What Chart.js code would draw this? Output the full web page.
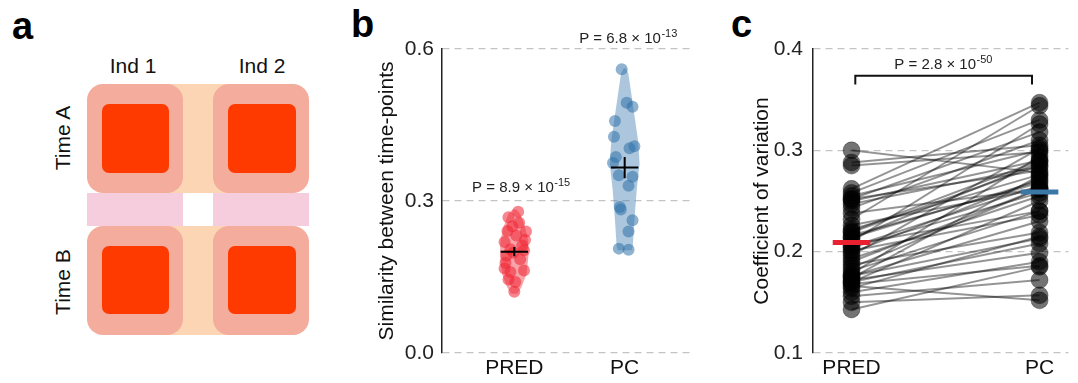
<!DOCTYPE html>
<html><head><meta charset="utf-8">
<script src="https://cdn.jsdelivr.net/npm/chart.js"></script>
<style>
html,body{margin:0;padding:0;background:#fff;}
#fig{position:relative;width:1078px;height:383px;overflow:hidden;font-family:"Liberation Sans",Arial,sans-serif;color:#111;}
.abs{position:absolute;}
.plabel{position:absolute;font-weight:bold;font-size:38px;line-height:38px;color:#000;}
.cell{position:absolute;background:#f4ac9c;border-radius:16px;}
.core{position:absolute;background:#ff3a00;border-radius:7px;}
.htxt{position:absolute;width:80px;text-align:center;font-size:21px;line-height:21px;}
.vtxt{position:absolute;width:100px;height:24px;line-height:24px;text-align:center;font-size:21px;transform:rotate(-90deg);}
</style></head>
<body><div id="fig">
  <!-- panel a: schematic -->
  <div class="plabel" style="left:12px;top:7px">a</div>
  <div class="htxt" style="left:93px;top:55px">Ind 1</div>
  <div class="htxt" style="left:222px;top:55px">Ind 2</div>
  <div class="vtxt" style="left:13px;top:126px">Time A</div>
  <div class="vtxt" style="left:13px;top:270px">Time B</div>
  <div class="abs" style="left:165px;top:84px;width:66px;height:251px;background:#fcd6b4"></div>
  <div class="abs" style="left:87px;top:193px;width:222px;height:33px;background:#f5cddc"></div>
  <div class="abs" style="left:183px;top:193px;width:30px;height:33px;background:#fff"></div>
  <div class="cell" style="left:87px;top:84px;width:96px;height:109px"></div>
  <div class="cell" style="left:213px;top:84px;width:96px;height:109px"></div>
  <div class="cell" style="left:87px;top:226px;width:96px;height:109px"></div>
  <div class="cell" style="left:213px;top:226px;width:96px;height:109px"></div>
  <div class="core" style="left:102px;top:104px;width:67px;height:69px"></div>
  <div class="core" style="left:228px;top:104px;width:68px;height:69px"></div>
  <div class="core" style="left:102px;top:246px;width:67px;height:68px"></div>
  <div class="core" style="left:228px;top:246px;width:68px;height:68px"></div>

  <div class="plabel" style="left:351px;top:5px">b</div>
  <div class="abs" style="left:340px;top:0;width:360px;height:383px"><canvas id="cb"></canvas></div>
  <div class="plabel" style="left:731px;top:5px">c</div>
  <div class="abs" style="left:700px;top:0;width:378px;height:383px"><canvas id="cc"></canvas></div>
</div>
<script>
const FONT = '"Liberation Sans", Arial, sans-serif';
const categories = ['PRED', 'PC'];

// ---- panel b: similarity between time-points ----
const predSimilarity = [0.279, 0.268, 0.257, 0.250, 0.241, 0.240, 0.232, 0.223, 0.219, 0.212, 0.205, 0.203, 0.198, 0.192, 0.185, 0.178, 0.167, 0.163, 0.160, 0.145, 0.140, 0.121];
const predJitter = [0.035, -0.053, 0.044, -0.018, -0.062, 0.106, 0.018, 0.097, -0.088, 0.071, -0.035, 0.088, -0.009, -0.071, 0.053, -0.080, -0.088, 0.088, -0.035, -0.053, 0.009, 0.0];
const pcSimilarity = [0.560, 0.494, 0.486, 0.458, 0.427, 0.408, 0.404, 0.387, 0.375, 0.351, 0.348, 0.330, 0.288, 0.283, 0.262, 0.240, 0.206, 0.204];
const pcJitter = [-0.027, 0.018, 0.071, -0.088, -0.097, 0.088, 0.044, -0.080, -0.106, -0.053, 0.071, 0.035, -0.044, -0.035, 0.071, 0.035, -0.053, 0.035];
const predViolinY = [0.283, 0.275, 0.249, 0.223, 0.196, 0.157, 0.130, 0.117];
const predViolinHalfWidth = [0.018, 0.053, 0.097, 0.124, 0.130, 0.112, 0.065, 0.027];
const pcViolinY = [0.562, 0.552, 0.486, 0.420, 0.374, 0.322, 0.256, 0.210, 0.203];
const pcViolinHalfWidth = [0.009, 0.033, 0.077, 0.121, 0.135, 0.109, 0.086, 0.073, 0.062];
const simMeans = [0.200, 0.366];
const simErrors = [0.009, 0.021];
const simTicks = [0.0, 0.3, 0.6];
const simPBase = ['8.9', '6.8'];
const simPExp = ['-15', '-13'];

// ---- panel c: coefficient of variation (paired) ----
const cvPred = [0.300, 0.288, 0.285, 0.262, 0.258, 0.255, 0.252, 0.250, 0.247, 0.243, 0.238, 0.232, 0.226, 0.222, 0.219, 0.216, 0.213, 0.210, 0.207, 0.204, 0.201, 0.199, 0.196, 0.193, 0.190, 0.187, 0.184, 0.181, 0.178, 0.176, 0.174, 0.172, 0.170, 0.168, 0.166, 0.164, 0.160, 0.156, 0.150, 0.143, 0.214, 0.220, 0.176, 0.205, 0.252, 0.170];
const cvPC   = [0.278, 0.305, 0.298, 0.347, 0.330, 0.300, 0.318, 0.290, 0.284, 0.310, 0.262, 0.344, 0.262, 0.276, 0.285, 0.268, 0.288, 0.326, 0.240, 0.258, 0.236, 0.272, 0.302, 0.255, 0.262, 0.219, 0.262, 0.240, 0.294, 0.213, 0.275, 0.199, 0.250, 0.186, 0.152, 0.215, 0.190, 0.172, 0.157, 0.185, 0.270, 0.290, 0.230, 0.265, 0.280, 0.208];
const cvMeans = [0.209, 0.259];
const cvTicks = [0.1, 0.2, 0.3, 0.4];
const cvPBase = '2.8';
const cvPExp = '-50';

Chart.defaults.font.family = FONT;

const violinPlugin = {
  id: 'violinFill',
  beforeDatasetDraw(chart, args) {
    const ds = chart.data.datasets[args.index];
    if (!ds.violin) return;
    const pts = args.meta.data;
    const ctx = chart.ctx;
    ctx.save();
    ctx.beginPath();
    pts.forEach((p, i) => i ? ctx.lineTo(p.x, p.y) : ctx.moveTo(p.x, p.y));
    ctx.closePath();
    ctx.fillStyle = ds.backgroundColor;
    ctx.fill();
    ctx.restore();
    return false;
  }
};

const pTextPlugin = {
  id: 'pText',
  afterDraw(chart, args, opts) {
    const ctx = chart.ctx;
    const xs = chart.scales.x, ys = chart.scales.y;
    (opts.items || []).forEach(it => {
      const px = xs.getPixelForValue(it.x), py = ys.getPixelForValue(it.y);
      const base = 'P = ' + it.base + ' \u00d7 10';
      ctx.save();
      ctx.fillStyle = '#222';
      ctx.textBaseline = 'alphabetic';
      ctx.textAlign = 'left';
      ctx.font = '15px ' + FONT;
      const w1 = ctx.measureText(base).width;
      ctx.font = '11px ' + FONT;
      const w2 = ctx.measureText(it.exp).width;
      const x0 = px - (w1 + w2) / 2;
      ctx.font = '15px ' + FONT;
      ctx.fillText(base, x0, py);
      ctx.font = '11px ' + FONT;
      ctx.fillText(it.exp, x0 + w1 + 0.5, py - 6);
      ctx.restore();
    });
  }
};

function violinPath(c, ys, hws) {
  const left = ys.map((y, i) => ({x: c - hws[i], y}));
  const right = ys.map((y, i) => ({x: c + hws[i], y})).reverse();
  return left.concat(right);
}
function crossData(c, m, e, hw) {
  return [{x: c - hw, y: m}, {x: c + hw, y: m}, {x: c, y: null}, {x: c, y: m - e}, {x: c, y: m + e}];
}

function axisOptions(o) {
  return {
    x: {
      type: 'linear', min: o.xMin, max: o.xMax,
      afterBuildTicks: s => { s.ticks = [{value: 1}, {value: 2}]; },
      afterFit: s => { s.height = o.xHeight; },
      ticks: { font: {size: 21}, color: '#111', padding: o.xPad, autoSkip: false, maxRotation: 0,
               callback: v => categories[Math.round(v) - 1] },
      grid: { display: false, drawTicks: false },
      border: { display: false }
    },
    y: {
      min: o.yMin, max: o.yMax,
      afterBuildTicks: s => { s.ticks = o.ticks.map(v => ({value: v})); },
      afterFit: s => { s.width = o.yWidth; },
      ticks: { font: {size: 21}, color: '#222', padding: o.yPad, callback: v => Number(v).toFixed(1) },
      grid: { color: '#c4c4c4', lineWidth: 1.3, drawTicks: false },
      border: { display: true, color: '#222', width: 1.5, dash: [7, 5] },
      title: { display: true, text: o.title, font: {size: 21}, color: '#111', padding: {top: o.titlePad, bottom: 0} }
    }
  };
}

// ---- chart b ----
new Chart(document.getElementById('cb'), {
  type: 'scatter',
  data: { datasets: [
    { type: 'line', label: 'PRED mean', data: crossData(1, simMeans[0], simErrors[0], 0.124), borderColor: '#000', borderWidth: 2, pointRadius: 0, showLine: true, spanGaps: false, order: 0 },
    { type: 'line', label: 'PC mean', data: crossData(2, simMeans[1], simErrors[1], 0.124), borderColor: '#000', borderWidth: 2, pointRadius: 0, showLine: true, spanGaps: false, order: 0 },
    { type: 'scatter', label: 'PRED', data: predSimilarity.map((v, i) => ({x: 1 + predJitter[i], y: v})), backgroundColor: 'rgba(240,35,50,0.55)', borderWidth: 0, pointRadius: 6, showLine: false, order: 1 },
    { type: 'scatter', label: 'PC', data: pcSimilarity.map((v, i) => ({x: 2 + pcJitter[i], y: v})), backgroundColor: 'rgba(50,115,170,0.55)', borderWidth: 0, pointRadius: 6, showLine: false, order: 1 },
    { type: 'line', label: 'PRED violin', violin: true, data: violinPath(1, predViolinY, predViolinHalfWidth), backgroundColor: 'rgba(240,90,100,0.55)', borderWidth: 0, pointRadius: 0, showLine: true, order: 2 },
    { type: 'line', label: 'PC violin', violin: true, data: violinPath(2, pcViolinY, pcViolinHalfWidth), backgroundColor: 'rgba(70,130,180,0.45)', borderWidth: 0, pointRadius: 0, showLine: true, order: 2 }
  ]},
  options: {
    responsive: true, maintainAspectRatio: false, animation: false, devicePixelRatio: 1, events: [],
    layout: { padding: {top: 49, left: 0, right: 0, bottom: 0} },
    plugins: { legend: {display: false}, tooltip: {enabled: false},
      pText: { items: [
        {x: 1.06, y: 0.318, base: simPBase[0], exp: simPExp[0]},
        {x: 2.03, y: 0.611, base: simPBase[1], exp: simPExp[1]}
      ]}
    },
    scales: axisOptions({xMin: 0.345, xMax: 2.628, xHeight: 30, xPad: 3, yMin: 0, yMax: 0.6, ticks: simTicks,
      yWidth: 102, yPad: 8, title: 'Similarity between time-points', titlePad: 35})
  },
  plugins: [violinPlugin, pTextPlugin]
});

// ---- chart c ----
const pairSets = cvPred.map((v, i) => ({
  type: 'line', label: 'pair ' + (i + 1), data: [{x: 1, y: v}, {x: 2, y: cvPC[i]}],
  borderColor: 'rgba(0,0,0,0.42)', borderWidth: 2, pointRadius: 0, showLine: true, order: 3
}));
new Chart(document.getElementById('cc'), {
  type: 'scatter',
  data: { datasets: [
    { type: 'line', label: 'bracket', data: [{x: 1.02, y: 0.365}, {x: 1.02, y: 0.3737}, {x: 1.96, y: 0.3737}, {x: 1.96, y: 0.365}], borderColor: '#111', borderWidth: 2, pointRadius: 0, showLine: true, order: 0 },
    { type: 'line', label: 'PRED mean', data: [{x: 0.9, y: cvMeans[0]}, {x: 1.1, y: cvMeans[0]}], borderColor: '#e8202f', borderWidth: 5, pointRadius: 0, showLine: true, order: 0 },
    { type: 'line', label: 'PC mean', data: [{x: 1.9, y: cvMeans[1]}, {x: 2.1, y: cvMeans[1]}], borderColor: '#3a78a8', borderWidth: 5, pointRadius: 0, showLine: true, order: 0 },
    { type: 'scatter', label: 'values', data: cvPred.map(v => ({x: 1, y: v})).concat(cvPC.map(v => ({x: 2, y: v}))),
      backgroundColor: 'rgba(0,0,0,0.55)', borderColor: 'rgba(0,0,0,0.3)', borderWidth: 1, pointRadius: 8.5, showLine: false, order: 2 }
  ].concat(pairSets)},
  options: {
    responsive: true, maintainAspectRatio: false, animation: false, devicePixelRatio: 1, events: [],
    layout: { padding: {top: 49, left: 0, right: 0, bottom: 0} },
    plugins: { legend: {display: false}, tooltip: {enabled: false},
      pText: { items: [{x: 1.487, y: 0.3807, base: cvPBase, exp: cvPExp}] }
    },
    scales: axisOptions({xMin: 0.795, xMax: 2.154, xHeight: 30, xPad: 3, yMin: 0.1, yMax: 0.4, ticks: cvTicks,
      yWidth: 113, yPad: 10, title: 'Coefficient of variation', titlePad: 50})
  },
  plugins: [violinPlugin, pTextPlugin]
});
</script>
</body></html>
